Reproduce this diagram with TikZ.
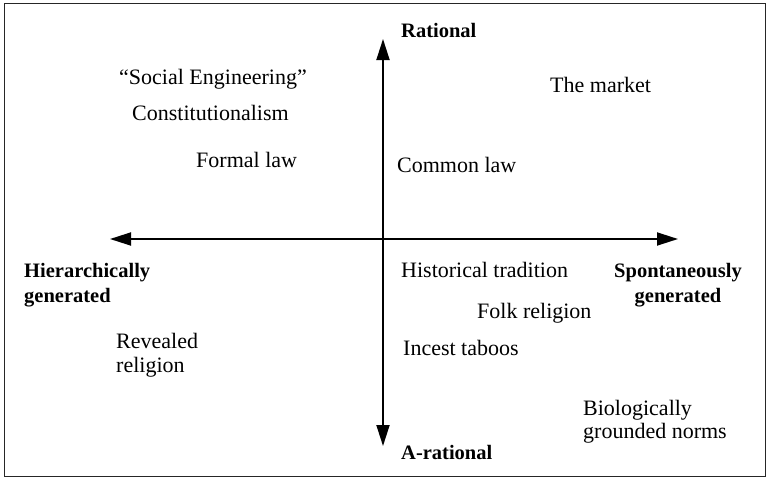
\documentclass[tikz,border=0pt]{standalone}
\usepackage{fontspec}
\setmainfont{Liberation Serif}
\usetikzlibrary{arrows.meta}
\tikzset{
  lbl/.style={inner sep=0pt, anchor=base west, font=\fontsize{22}{25}\selectfont},
  lblc/.style={inner sep=0pt, anchor=base, font=\fontsize{20.5}{25}\bfseries\selectfont},
  axlbl/.style={inner sep=0pt, anchor=base west, font=\fontsize{20.5}{25}\bfseries\selectfont},
  axis/.style={line width=1.8pt, {Triangle[length=21pt,width=13pt]}-{Triangle[length=21pt,width=13pt]}},
  frame/.style={line width=1pt, draw=black!85}
}
\begin{document}
\begin{tikzpicture}[x=1pt,y=-1pt]
\useasboundingbox (0,0) rectangle (766,479);
\draw[frame] (4,3) rectangle (765,476);
% axes
\coordinate (top) at (383,39);
\coordinate (bot) at (383,446);
\coordinate (lft) at (110,239);
\coordinate (rgt) at (678,239);
\draw[axis] (bot) -- (top);
\draw[axis] (lft) -- (rgt);
% axis labels
\node[axlbl] (rat) at (401,37) {Rational};
\node[axlbl] (arat) at (401,459) {A-rational};
\node[axlbl] (hier1) at (24,277) {Hierarchically};
\node[axlbl] (hier2) at (24,302) {generated};
\node[lblc] (spon1) at (678,277) {Spontaneously};
\node[lblc] (spon2) at (678,302) {generated};
% items
\node[lbl] (soc) at (119,84) {“Social Engineering”};
\node[lbl] (con) at (132,120) {Constitutionalism};
\node[lbl] (form) at (196,167) {Formal law};
\node[lbl] (mkt) at (550,92) {The market};
\node[lbl] (com) at (397,172) {Common law};
\node[lbl] (hist) at (401,277) {Historical tradition};
\node[lbl] (folk) at (477,318) {Folk religion};
\node[lbl] (inc) at (403,355) {Incest taboos};
\node[lbl] (rev1) at (116,348) {Revealed};
\node[lbl] (rev2) at (116,372) {religion};
\node[lbl] (bio1) at (583,415) {Biologically};
\node[lbl] (bio2) at (583,438) {grounded norms};
\end{tikzpicture}
\end{document}
